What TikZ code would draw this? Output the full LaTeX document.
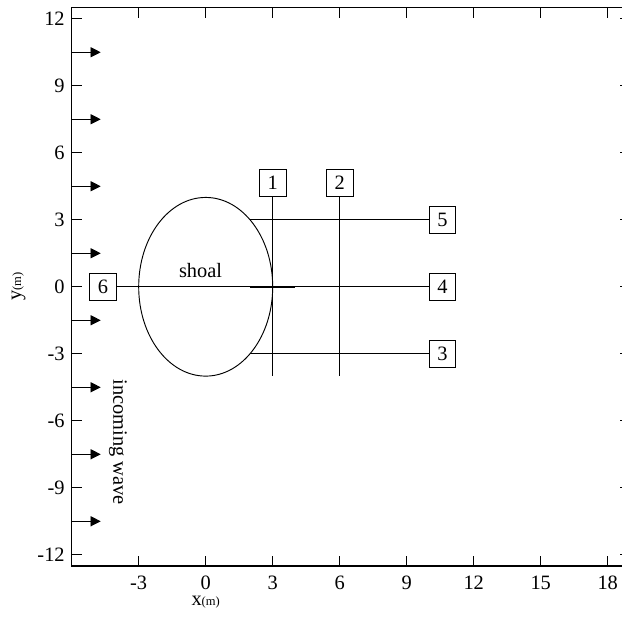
\documentclass[tikz,border=0pt]{standalone}
\usepackage{fontspec}
\setmainfont{Liberation Serif}
\usetikzlibrary{arrows.meta}
\begin{document}
\begin{tikzpicture}[x=0.5cm, y=0.5cm, font=\fontsize{13}{15}\selectfont, >={Triangle[length=6.5pt, width=6.5pt]},
		gauge/.style={draw, line width=0.6pt, fill=white, minimum size=0.6cm, inner sep=0pt},
		frameline/.style={line width=0.8pt},
		ticklabel/.style={inner sep=0pt}]
				\useasboundingbox (-9.21,-14.75) rectangle (18.64,12.84);
				% frame and ticks
				\draw[frameline] (-6,-12.5) rectangle (19,12.5);
				\foreach \x in {-3,0,...,18} {
					\draw[frameline] (\x,-12.5) -- ++(0,0.45);
					\draw[frameline] (\x,12.5) -- ++(0,-0.45);
					\node[ticklabel] at (\x,-13.27) {\x};
				}
				\foreach \y in {-12,-9,...,12} {
					\draw[frameline] (-6,\y) -- ++(0.45,0);
					\draw[frameline] (19,\y) -- ++(-0.45,0);
					\node[ticklabel, anchor=east] at (-6.3,\y) {\y};
				}
				\node (xlabel) at (0,-14.1) {x{\fontsize{8}{9}\selectfont(m)}};
				\node[rotate=90] (ylabel) at (-8.38,0) {y{\fontsize{8}{9}\selectfont(m)}};
				% incoming wave
				\foreach \y in {10.5,7.5,...,-10.5}
					\draw[->, line width=0.6pt] (-6,\y) -- (-4.7,\y);
				\node[rotate=-90] (wave) at (-3.93,-6.96) {incoming wave};
				% shoal
				\draw[line width=0.6pt] (0,0) ellipse [x radius=3, y radius=4];
				\node (shoal) at (-0.23,0.72) {shoal};
				% gauges
				\node[gauge] (g1) at (3,4.64) {1};
				\node[gauge] (g2) at (6,4.64) {2};
				\node[gauge] (g3) at (10.6,-3) {3};
				\node[gauge] (g4) at (10.6,0) {4};
				\node[gauge] (g5) at (10.6,3) {5};
				\node[gauge] (g6) at (-4.6,0) {6};
				\coordinate (v1) at (3,-4);
				\coordinate (v2) at (6,-4);
				\coordinate (h3) at (1.98,-3);
				\coordinate (h5) at (1.98,3);
				\draw[line width=0.6pt] (g1) -- (v1);
				\draw[line width=0.6pt] (g2) -- (v2);
				\draw[line width=0.6pt] (h3) -- (g3);
				\draw[line width=0.6pt] (h5) -- (g5);
				\draw[line width=0.6pt] (g6) -- (g4);
				\draw[line width=1.2pt] (2,0) -- (4,0);
			\end{tikzpicture}
\end{document}
